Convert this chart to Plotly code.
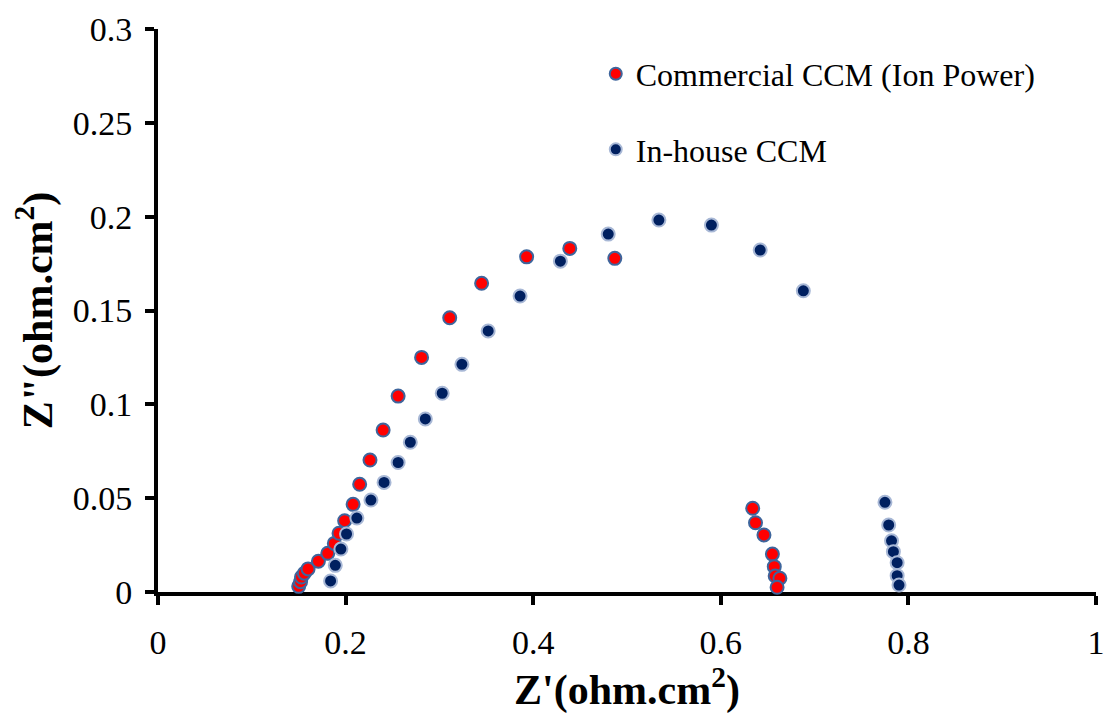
import plotly.graph_objects as go

# Nyquist impedance data, Z' and Z'' in ohm.cm^2
commercial_zre = [0.150, 0.152, 0.153, 0.156, 0.160, 0.171, 0.181, 0.188, 0.193, 0.199,
                  0.208, 0.215, 0.226, 0.240, 0.256, 0.281, 0.311, 0.345, 0.393, 0.439,
                  0.487, 0.634, 0.637, 0.646, 0.655, 0.657, 0.658, 0.663, 0.660]
commercial_zim = [0.0030, 0.0055, 0.0080, 0.0100, 0.0123, 0.0164, 0.0206, 0.0259, 0.0313, 0.0380,
                  0.0467, 0.0574, 0.0703, 0.0863, 0.1044, 0.1250, 0.1461, 0.1645, 0.1786, 0.1831,
                  0.1778, 0.0446, 0.0369, 0.0304, 0.0202, 0.0135, 0.0085, 0.0073, 0.0025]

inhouse_zre = [0.184, 0.189, 0.195, 0.201, 0.212, 0.227, 0.241, 0.256, 0.269, 0.285,
               0.303, 0.324, 0.352, 0.386, 0.429, 0.480, 0.534, 0.590, 0.642, 0.688,
               0.775, 0.779, 0.782, 0.784, 0.788, 0.788, 0.790]
inhouse_zim = [0.0059, 0.0142, 0.0229, 0.0309, 0.0394, 0.0490, 0.0584, 0.0690, 0.0798, 0.0922,
               0.1059, 0.1213, 0.1391, 0.1577, 0.1763, 0.1907, 0.1982, 0.1955, 0.1822, 0.1605,
               0.0478, 0.0357, 0.0273, 0.0215, 0.0156, 0.0087, 0.0037]

series_names = ["Commercial CCM (Ion Power)", "In-house CCM"]

x_tickvals = [0, 0.2, 0.4, 0.6, 0.8, 1]
x_ticktext = ["0", "0.2", "0.4", "0.6", "0.8", "1"]
y_tickvals = [0, 0.05, 0.1, 0.15, 0.2, 0.25, 0.3]
y_ticktext = ["0", "0.05", "0.1", "0.15", "0.2", "0.25", "0.3"]

FONT = "Liberation Serif"

fig = go.Figure()
fig.add_trace(go.Scatter(
    x=commercial_zre, y=commercial_zim, mode="markers", name=series_names[0],
    legendgroup="a", cliponaxis=False,
    marker=dict(size=13, color="#FF0000", line=dict(color="#3E659C", width=2)),
))
fig.add_trace(go.Scatter(
    x=inhouse_zre, y=inhouse_zim, mode="markers", name=series_names[1],
    legendgroup="b", cliponaxis=False,
    marker=dict(size=13, color="#002060", line=dict(color="#A8B8D6", width=2)),
))

axis_common = dict(
    showline=True, linecolor="black", linewidth=4,
    ticks="outside", tickcolor="black", tickwidth=4, ticklen=9,
    showgrid=False, zeroline=False, mirror=False, layer="below traces",
    ticklabeloverflow="allow",
    tickfont=dict(family=FONT, size=34, color="black"),
)

fig.update_xaxes(
    range=[0, 1], tickvals=x_tickvals, ticktext=x_ticktext, ticklabelstandoff=8,
    title=dict(text="Z'(ohm.cm<sup>2</sup>)", standoff=8,
               font=dict(family=FONT, size=42, color="black", weight="bold")),
    **axis_common,
)
fig.update_yaxes(
    range=[0, 0.3], tickvals=y_tickvals, ticktext=y_ticktext, ticklabelstandoff=6,
    title=dict(text="Z\"(ohm.cm<sup>2</sup>)", standoff=8,
               font=dict(family=FONT, size=42, color="black", weight="bold")),
    **axis_common,
)

fig.update_layout(
    width=1113, height=715,
    margin=dict(l=158, r=8, t=29, b=123),
    paper_bgcolor="white", plot_bgcolor="white",
    font=dict(family=FONT, color="black"),
    legend=dict(
        x=0.4667, y=0.969, xanchor="left", yanchor="top",
        font=dict(family=FONT, size=32, color="black"),
        bgcolor="rgba(0,0,0,0)", itemsizing="constant",
        tracegroupgap=31, traceorder="grouped",
    ),
)

fig.write_html("out.html")
